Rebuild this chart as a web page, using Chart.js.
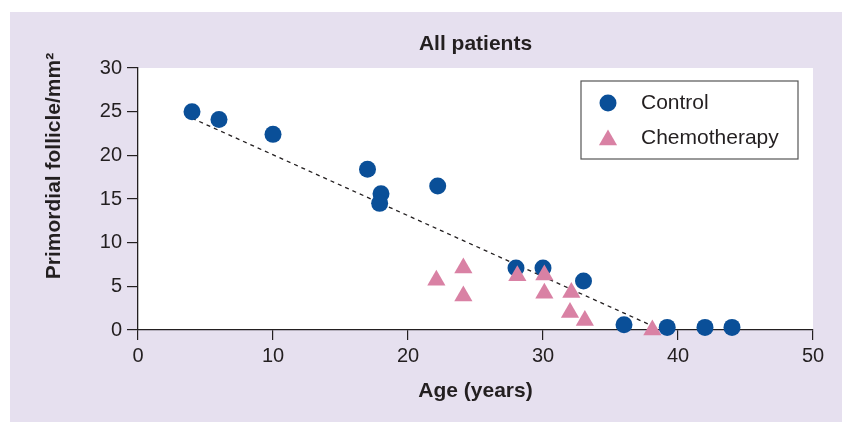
<!DOCTYPE html>
<html>
<head>
<meta charset="utf-8">
<script src="https://cdn.jsdelivr.net/npm/chart.js@4/dist/chart.umd.min.js"></script>
<style>
  body { margin: 0; background: #fff; }
  #panel { position: absolute; left: 10px; top: 12px; width: 832px; height: 410px; background: #e6e0ef; }
</style>
</head>
<body>
<div id="panel"><canvas id="chart" width="832" height="410"></canvas></div>
<script>
// values
const controlAge = [4, 6, 10, 17, 18, 17.9, 22.2, 28, 30, 33, 36, 39.2, 42, 44];
const controlFollicles = [25, 24.1, 22.4, 18.4, 15.6, 14.5, 16.5, 7.1, 7.1, 5.6, 0.6, 0.3, 0.3, 0.3];
const chemoAge = [22.1, 24.1, 24.1, 28.1, 30.1, 30.1, 32.1, 32, 33.1, 38.1];
const chemoFollicles = [5.7, 7.1, 3.9, 6.2, 6.3, 4.2, 4.3, 2.0, 1.1, 0];
const trendAge = [4, 38.2];
const trendFollicles = [24.25, 0.4];
const seriesNames = ['Control', 'Chemotherapy'];
const xTicks = [0, 10, 20, 30, 40, 50];
const yTicks = [0, 5, 10, 15, 20, 25, 30];

const INK = '#231f20';
const BLUE = '#0a4f98';
const PINK = '#d981a4';
const FONT = '"Liberation Sans", Arial, sans-serif';

const toPoints = (xs, ys) => xs.map((x, i) => ({ x: x, y: ys[i] }));

// title, axis titles, legend box and white plot area
const decor = {
  id: 'decor',
  beforeDraw(chart) {
    const { ctx, chartArea: a } = chart;
    ctx.save();
    ctx.fillStyle = '#fff';
    ctx.fillRect(a.left, a.top, a.right - a.left, a.bottom - a.top);
    ctx.restore();
  },
  afterDraw(chart) {
    const { ctx, chartArea: a } = chart;
    const cx = (a.left + a.right) / 2;
    ctx.save();
    ctx.fillStyle = INK;
    ctx.textAlign = 'center';
    ctx.textBaseline = 'middle';
    ctx.font = 'bold 21px ' + FONT;
    ctx.fillText('All patients', cx, 32);
    ctx.fillText('Age (years)', cx, 379);
    ctx.save();
    ctx.translate(44, 154);
    ctx.rotate(-Math.PI / 2);
    ctx.fillText('Primordial follicle/mm²', 0, 0);
    ctx.restore();

    // legend
    const lx = 571, ly = 69, lw = 217, lh = 78;
    ctx.fillStyle = '#fff';
    ctx.fillRect(lx, ly, lw, lh);
    ctx.strokeStyle = '#555';
    ctx.lineWidth = 1.2;
    ctx.strokeRect(lx, ly, lw, lh);

    ctx.fillStyle = BLUE;
    ctx.beginPath();
    ctx.arc(lx + 27, ly + 22, 8.5, 0, Math.PI * 2);
    ctx.fill();

    const r = 10.5, tx = lx + 27, ty = ly + 59;
    ctx.fillStyle = PINK;
    ctx.beginPath();
    ctx.moveTo(tx, ty - r);
    ctx.lineTo(tx + r * Math.sin(Math.PI * 2 / 3), ty + r / 2);
    ctx.lineTo(tx - r * Math.sin(Math.PI * 2 / 3), ty + r / 2);
    ctx.closePath();
    ctx.fill();

    ctx.fillStyle = INK;
    ctx.textAlign = 'left';
    ctx.font = '21px ' + FONT;
    ctx.fillText(seriesNames[0], lx + 60, ly + 22);
    ctx.fillText(seriesNames[1], lx + 60, ly + 57);
    ctx.restore();
  }
};

new Chart(document.getElementById('chart'), {
  type: 'scatter',
  data: {
    datasets: [
      {
        label: seriesNames[1],
        data: toPoints(chemoAge, chemoFollicles),
        pointStyle: 'triangle',
        pointRadius: 10.5,
        backgroundColor: PINK,
        borderWidth: 0,
        clip: false,
        order: 0
      },
      {
        label: seriesNames[0],
        data: toPoints(controlAge, controlFollicles),
        pointStyle: 'circle',
        pointRadius: 8.5,
        backgroundColor: BLUE,
        borderWidth: 0,
        clip: false,
        order: 1
      },
      {
        label: 'Trend',
        type: 'line',
        data: toPoints(trendAge, trendFollicles),
        borderColor: INK,
        borderWidth: 1.3,
        borderDash: [4, 4],
        pointRadius: 0,
        fill: false,
        order: 2
      }
    ]
  },
  options: {
    responsive: false,
    devicePixelRatio: 1,
    animation: false,
    layout: { padding: { top: 56, right: 29, left: 0, bottom: 0 } },
    plugins: {
      legend: { display: false },
      title: { display: false },
      tooltip: { enabled: false }
    },
    scales: {
      x: {
        type: 'linear',
        min: 0,
        max: 50,
        afterFit(scale) { scale.height = 92; },
        afterBuildTicks(scale) { scale.ticks = xTicks.map(v => ({ value: v })); },
        ticks: { color: INK, font: { family: FONT, size: 20 }, padding: 4 },
        grid: { drawOnChartArea: false, drawTicks: true, tickLength: 10, color: INK, lineWidth: 1.2 },
        border: { display: true, color: INK, width: 1.3 }
      },
      y: {
        type: 'linear',
        min: 0,
        max: 30,
        afterFit(scale) { scale.width = 128; },
        afterBuildTicks(scale) { scale.ticks = yTicks.map(v => ({ value: v })); },
        ticks: { color: INK, font: { family: FONT, size: 20 }, padding: 5 },
        grid: { drawOnChartArea: false, drawTicks: true, tickLength: 11, color: INK, lineWidth: 1.2 },
        border: { display: true, color: INK, width: 1.3 }
      }
    }
  },
  plugins: [decor]
});
</script>
</body>
</html>
